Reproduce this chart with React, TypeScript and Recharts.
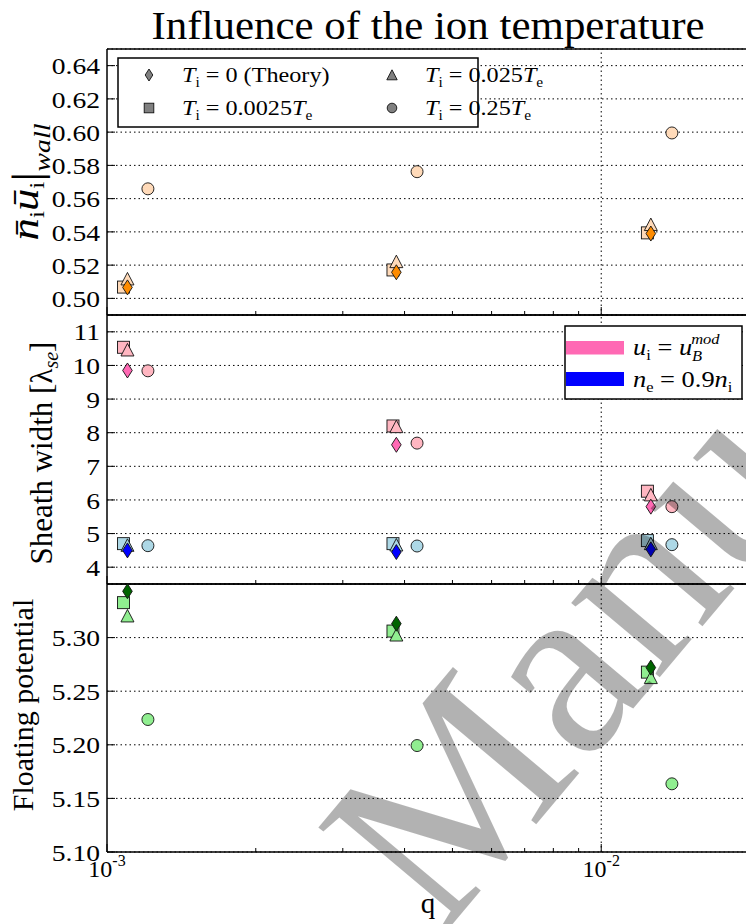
import React from 'react'
import {
  ScatterChart,
  Scatter,
  XAxis,
  YAxis,
  CartesianGrid,
  ReferenceLine,
} from 'recharts'

// q positions of the three runs (circles and squares are nudged for visibility)
const qMain = [0.0011, 0.00385, 0.0126]
const qSquare = [0.00108, 0.00379, 0.0124]
const qCircle = [0.00121, 0.00424, 0.0139]

const xTicks = [0.001, 0.002, 0.003, 0.004, 0.005, 0.006, 0.007, 0.008, 0.009, 0.01, 0.02]
const xMajor = [0.001, 0.01]
const xMajorExp = ['-3', '-2']

// panel 1: flux at the wall
const fluxTheory = [0.5066, 0.5157, 0.539]
const fluxT0025 = [0.5068, 0.5171, 0.5394]
const fluxT025 = [0.5117, 0.5221, 0.5444]
const fluxT25 = [0.5659, 0.5762, 0.5995]
const fluxTicks = [0.5, 0.52, 0.54, 0.56, 0.58, 0.6, 0.62, 0.64]

// panel 2: sheath width, two criteria
const sheathModTheory = [9.85, 7.64, 5.8]
const sheathMod0025 = [10.54, 8.2, 6.26]
const sheathMod025 = [10.46, 8.18, 6.15]
const sheathMod25 = [9.84, 7.69, 5.8]
const sheathNeTheory = [4.5, 4.45, 4.53]
const sheathNe0025 = [4.7, 4.7, 4.79]
const sheathNe025 = [4.65, 4.66, 4.7]
const sheathNe25 = [4.64, 4.63, 4.67]
const sheathTicks = [4, 5, 6, 7, 8, 9, 10, 11]

// panel 3: floating potential
const phiTheory = [5.3432, 5.313, 5.272]
const phiT0025 = [5.3326, 5.3061, 5.2678]
const phiT025 = [5.3202, 5.3024, 5.2627]
const phiT25 = [5.2236, 5.1993, 5.1636]
const phiTicks = [5.1, 5.15, 5.2, 5.25, 5.3]

const legendValues = ['0 (Theory)', '0.0025', '0.025', '0.25']

const W = 760
const H = 924
const FONT = 'Liberation Serif'

const toPoints = (qs: number[], ys: number[]) => qs.map((q, i) => ({ x: q, y: ys[i] }))

function Marker({ kind, cx, cy, fill, s = 1 }: any) {
  const edge = { stroke: '#111', strokeWidth: 0.9 }
  if (kind === 'circle') return <circle cx={cx} cy={cy} r={6 * s} fill={fill} {...edge} />
  if (kind === 'square')
    return <rect x={cx - 6 * s} y={cy - 6 * s} width={12 * s} height={12 * s} fill={fill} {...edge} />
  if (kind === 'triangle')
    return (
      <polygon
        points={`${cx},${cy - 6.5 * s} ${cx - 6.5 * s},${cy + 6 * s} ${cx + 6.5 * s},${cy + 6 * s}`}
        fill={fill}
        {...edge}
      />
    )
  return (
    <polygon
      points={`${cx},${cy - 7.5 * s} ${cx + 4.8 * s},${cy} ${cx},${cy + 7.5 * s} ${cx - 4.8 * s},${cy}`}
      fill={fill}
      {...edge}
    />
  )
}

function LeftTick({ x, y, payload, digits }: any) {
  return (
    <g>
      <line x1={x} y1={y} x2={x + 8} y2={y} stroke="#000" strokeWidth={1} />
      <text
        transform={`translate(${x - 7},${y}) scale(1.15,1)`}
        dy="0.36em"
        textAnchor="end"
        fontSize={24}
        fontFamily={FONT}
        fill="#000"
      >
        {payload.value.toFixed(digits)}
      </text>
    </g>
  )
}

function BottomTick({ x, y, payload, showLabels }: any) {
  const k = xMajor.findIndex((v) => Math.abs(v - payload.value) < 1e-9)
  const len = k >= 0 ? 8 : 4
  return (
    <g>
      <line x1={x} y1={y} x2={x} y2={y - len} stroke="#000" strokeWidth={1} />
      {showLabels && k >= 0 && (
        <text x={x} y={y + 25} textAnchor="middle" fontSize={24} fontFamily={FONT} fill="#000">
          10
          <tspan fontSize={16} dy={-11}>
            {xMajorExp[k]}
          </tspan>
        </text>
      )}
    </g>
  )
}

function TopTick({ x, y, payload }: any) {
  const major = xMajor.some((v) => Math.abs(v - payload.value) < 1e-9)
  return <line x1={x} y1={y} x2={x} y2={y + (major ? 8 : 4)} stroke="#000" strokeWidth={1} />
}

type Series = { name: string; kind: string; fill: string; q: number[]; y: number[] }

function Panel({
  top,
  bottom,
  domain,
  ticks,
  digits,
  series,
  showXLabels,
}: {
  top: number
  bottom: number
  domain: [number, number]
  ticks: number[]
  digits: number
  series: Series[]
  showXLabels: boolean
}) {
  // axes are 1px bands so that Recharts draws them; margins absorb that pixel
  return (
    <div style={{ position: 'absolute', left: 0, top: 0 }}>
      <ScatterChart width={W} height={H} margin={{ top: top - 1, bottom: H - bottom - 1, left: 106, right: 10 }}>
        <CartesianGrid vertical={false} stroke="#000" strokeDasharray="1.5 3" strokeWidth={1} />
        <ReferenceLine x={0.01} stroke="#000" strokeDasharray="1.5 3" strokeWidth={1} />
        <XAxis
          dataKey="x"
          type="number"
          scale="log"
          domain={[0.001, 0.02]}
          allowDataOverflow
          ticks={xTicks}
          interval={0}
          height={1}
          tickSize={0}
          tickMargin={0}
          tickLine={false}
          axisLine={{ stroke: '#000', strokeWidth: 1.5 }}
          tick={(p: any) => <BottomTick {...p} showLabels={showXLabels} />}
        />
        <XAxis
          xAxisId="top"
          orientation="top"
          type="number"
          scale="log"
          domain={[0.001, 0.02]}
          allowDataOverflow
          ticks={xTicks}
          interval={0}
          height={1}
          tickSize={0}
          tickMargin={0}
          tickLine={false}
          axisLine={{ stroke: '#000', strokeWidth: 1.5 }}
          tick={(p: any) => <TopTick {...p} />}
        />
        <YAxis
          dataKey="y"
          type="number"
          domain={domain}
          allowDataOverflow
          ticks={ticks}
          interval={0}
          width={1}
          tickSize={0}
          tickMargin={0}
          tickLine={false}
          axisLine={{ stroke: '#000', strokeWidth: 1.5 }}
          tick={(p: any) => <LeftTick {...p} digits={digits} />}
        />
        {series.map((s) => (
          <Scatter
            key={s.name}
            name={s.name}
            data={toPoints(s.q, s.y)}
            isAnimationActive={false}
            shape={(p: any) => <Marker kind={s.kind} cx={p.cx} cy={p.cy} fill={s.fill} />}
          />
        ))}
      </ScatterChart>
    </div>
  )
}

function groupSeries(prefix: string, light: string, dark: string, vals: number[][]): Series[] {
  const [theory, t0025, t025, t25] = vals
  return [
    { name: prefix + '-c', kind: 'circle', fill: light, q: qCircle, y: t25 },
    { name: prefix + '-s', kind: 'square', fill: light, q: qSquare, y: t0025 },
    { name: prefix + '-t', kind: 'triangle', fill: light, q: qMain, y: t025 },
    { name: prefix + '-d', kind: 'diamond', fill: dark, q: qMain, y: theory },
  ]
}

function Ti({ value, withTe }: { value: string; withTe: boolean }) {
  return (
    <>
      <tspan fontStyle="italic">T</tspan>
      <tspan fontSize={14} dy={5}>
        i
      </tspan>
      <tspan dy={-5}>{' = ' + value}</tspan>
      {withTe && (
        <>
          <tspan fontStyle="italic">T</tspan>
          <tspan fontSize={14} dy={5}>
            e
          </tspan>
        </>
      )}
    </>
  )
}

function Overlay() {
  const legendCells = [
    { kind: 'diamond', x: 149, y: 75, v: legendValues[0], te: false },
    { kind: 'square', x: 149, y: 108, v: legendValues[1], te: true },
    { kind: 'triangle', x: 392, y: 75, v: legendValues[2], te: true },
    { kind: 'circle', x: 392, y: 108, v: legendValues[3], te: true },
  ]
  return (
    <svg
      width={746}
      height={924}
      style={{ position: 'absolute', left: 0, top: 0, pointerEvents: 'none' }}
      fontFamily={FONT}
    >
      <text x={428} y={39} textAnchor="middle" fontSize={41} textLength={553} lengthAdjust="spacingAndGlyphs">
        Influence of the ion temperature
      </text>

      {/* y labels */}
      <text
        transform="translate(38,182) rotate(-90)"
        textAnchor="middle"
        fontSize={37}
        textLength={117}
        lengthAdjust="spacingAndGlyphs"
      >
        <tspan fontStyle="italic">n̄</tspan>
        <tspan fontSize={21} dy={6}>
          i
        </tspan>
        <tspan fontStyle="italic" dy={-6}>
          ū
        </tspan>
        <tspan fontSize={21} dy={6}>
          i
        </tspan>
        <tspan dy={-3} fontSize={42}>
          |
        </tspan>
        <tspan fontStyle="italic" fontSize={23} dy={9}>
          wall
        </tspan>
      </text>
      <text transform="translate(52,453) rotate(-90)" textAnchor="middle" fontSize={31}>
        Sheath width [λ
        <tspan fontStyle="italic" fontSize={20} dy={6}>
          se
        </tspan>
        <tspan dy={-6}>]</tspan>
      </text>
      <text transform="translate(33,705) rotate(-90)" textAnchor="middle" fontSize={30}>
        Floating potential
      </text>
      <text x={428} y={913} textAnchor="middle" fontSize={29}>
        q
      </text>

      {/* temperature legend */}
      <rect x={118} y={58} width={360} height={69} fill="#fff" stroke="#000" strokeWidth={1.5} />
      {legendCells.map((c) => (
        <g key={c.v}>
          <Marker kind={c.kind} cx={c.x} cy={c.y} fill="#808080" s={0.8} />
          <text transform={`translate(${c.x + 33},${c.y + 7}) scale(1.1,1)`} fontSize={22}>
            <Ti value={c.v} withTe={c.te} />
          </text>
        </g>
      ))}

      {/* criterion legend */}
      <rect x={565} y={326} width={177} height={73} fill="#fff" stroke="#000" strokeWidth={1.5} />
      <rect x={566} y={341} width={58} height={13.5} fill="#ff69b4" />
      <rect x={566} y={372} width={58} height={14} fill="#0000ff" />
      <text transform="translate(633,355) scale(1.1,1)" fontSize={24}>
        <tspan fontStyle="italic">u</tspan>
        <tspan fontSize={15} dy={5}>
          i
        </tspan>
        <tspan dy={-5}> = </tspan>
        <tspan fontStyle="italic">u</tspan>
        <tspan fontStyle="italic" fontSize={15} dy={6}>
          B
        </tspan>
        <tspan fontStyle="italic" fontSize={15} dx={-10} dy={-17}>
          mod
        </tspan>
      </text>
      <text transform="translate(633,387) scale(1.1,1)" fontSize={24}>
        <tspan fontStyle="italic">n</tspan>
        <tspan fontSize={15} dy={5}>
          e
        </tspan>
        <tspan dy={-5}> = 0.9</tspan>
        <tspan fontStyle="italic">n</tspan>
        <tspan fontSize={15} dy={5}>
          i
        </tspan>
      </text>

      {/* watermark */}
      <text transform="translate(440,939) rotate(-50)" fontSize={252} fill="#000" fillOpacity={0.3}>
        Manus
      </text>
    </svg>
  )
}

export default function App() {
  return (
    <div
      style={{
        position: 'absolute',
        left: 0,
        top: 0,
        width: 746,
        height: 924,
        overflow: 'hidden',
        background: '#fff',
        fontFamily: FONT,
      }}
    >
      <Panel
        top={49}
        bottom={315}
        domain={[0.49, 0.65]}
        ticks={fluxTicks}
        digits={2}
        showXLabels={false}
        series={groupSeries('flux', '#ffdab9', '#ff8c00', [fluxTheory, fluxT0025, fluxT025, fluxT25])}
      />
      <Panel
        top={315}
        bottom={584}
        domain={[3.5, 11.5]}
        ticks={sheathTicks}
        digits={0}
        showXLabels={false}
        series={[
          ...groupSeries('mod', '#ffb6c1', '#ff69b4', [sheathModTheory, sheathMod0025, sheathMod025, sheathMod25]),
          ...groupSeries('ne', '#add8e6', '#0000ff', [sheathNeTheory, sheathNe0025, sheathNe025, sheathNe25]),
        ]}
      />
      <Panel
        top={584}
        bottom={852}
        domain={[5.1, 5.35]}
        ticks={phiTicks}
        digits={2}
        showXLabels={true}
        series={groupSeries('phi', '#90ee90', '#006400', [phiTheory, phiT0025, phiT025, phiT25])}
      />
      <Overlay />
    </div>
  )
}
